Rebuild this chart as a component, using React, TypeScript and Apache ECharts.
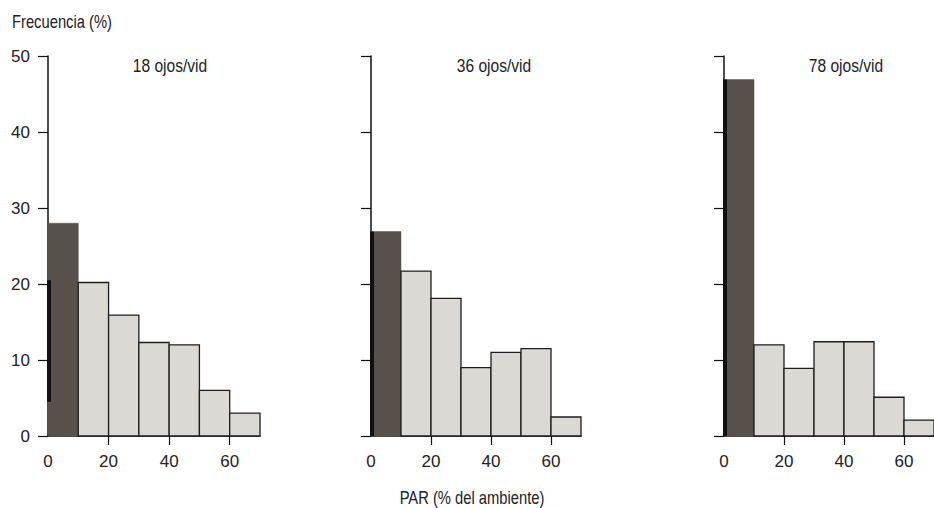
import React, { useEffect, useRef } from "react";
import * as echarts from "echarts";

// ---- data ----
const binEdges = [0, 10, 20, 30, 40, 50, 60, 70];
const panelTitles = ["18 ojos/vid", "36 ojos/vid", "78 ojos/vid"];
const freq18 = [28, 20.2, 15.9, 12.3, 12, 6, 3];
const freq36 = [26.9, 21.7, 18.1, 9, 11, 11.5, 2.5];
const freq78 = [46.9, 12, 8.9, 12.4, 12.4, 5.1, 2.1];
const panelValues = [freq18, freq36, freq78];
const xTickLabels = [0, 20, 40, 60];
const xTickMarks = [20, 40, 60];
const yAxisTitle = "Frecuencia (%)";
const xAxisTitle = "PAR (% del ambiente)";
// dark scan strip along left edge of first bin (value range)
const stripRanges = [
  [4.5, 20.5],
  [0, 26.9],
  [0, 46.9],
];

const FONT = "'Liberation Sans', Arial, Helvetica, sans-serif";
const TXT = "#222";
const DARK = "#57504b";
const LIGHT = "#dcd8d3";
const NARROW = 0.82;

export default function App() {
  const ref = useRef<HTMLDivElement>(null);

  useEffect(() => {
    if (!ref.current) return;
    const chart = echarts.init(ref.current, undefined, { renderer: "svg" });

    const grids = [
      { left: 48, top: 56, width: 212, height: 380 },
      { left: 371, top: 56, width: 210, height: 380 },
      { left: 724, top: 56, width: 213.5, height: 380 },
    ];

    const xAxes = grids.map((_, i) => ({
      type: "value",
      gridIndex: i,
      min: 0,
      max: 70,
      interval: 10,
      axisLine: { show: true, lineStyle: { color: "#111", width: 1.5 } },
      axisTick: {
        show: true,
        inside: false,
        length: 9,
        customValues: xTickMarks,
        lineStyle: { color: "#111", width: 1.2 },
      },
      axisLabel: {
        show: true,
        customValues: xTickLabels,
        margin: 17,
        fontSize: 17,
        fontFamily: FONT,
        color: TXT,
      },
      splitLine: { show: false },
    }));

    const yAxes = grids.map((_, i) => ({
      type: "value",
      gridIndex: i,
      min: 0,
      max: 50,
      interval: 10,
      axisLine: { show: true, lineStyle: { color: "#111", width: 1.5 } },
      axisTick: { show: true, inside: false, length: 10, lineStyle: { color: "#111", width: 1.2 } },
      axisLabel: {
        show: i === 0,
        margin: 18,
        fontSize: 17,
        fontFamily: FONT,
        color: TXT,
      },
      splitLine: { show: false },
    }));

    const barSeries = panelValues.map((vals, i) => ({
      type: "custom",
      xAxisIndex: i,
      yAxisIndex: i,
      z: 3,
      data: vals.map((v, k) => [binEdges[k], binEdges[k + 1], v]),
      encode: { x: [0, 1], y: 2 },
      renderItem: (params: any, api: any) => {
        const x0 = api.value(0);
        const x1 = api.value(1);
        const v = api.value(2);
        const p0 = api.coord([x0, v]);
        const p1 = api.coord([x1, 0]);
        const first = params.dataIndex === 0;
        return {
          type: "rect",
          shape: { x: p0[0], y: p0[1], width: p1[0] - p0[0], height: p1[1] - p0[1] },
          style: first
            ? { fill: DARK, stroke: DARK, lineWidth: 0.5 }
            : { fill: LIGHT, stroke: "#1e1e1e", lineWidth: 1.3 },
        };
      },
    }));

    const stripSeries = stripRanges.map((r, i) => ({
      type: "custom",
      xAxisIndex: i,
      yAxisIndex: i,
      z: 4,
      data: [[0, r[0], r[1]]],
      renderItem: (_params: any, api: any) => {
        const pTop = api.coord([api.value(0), api.value(2)]);
        const pBot = api.coord([api.value(0), api.value(1)]);
        return {
          type: "rect",
          shape: { x: pTop[0] - 1, y: pTop[1], width: 4, height: pBot[1] - pTop[1] },
          style: { fill: "#111" },
        };
      },
    }));

    const titleCenters = [170, 494, 846];

    chart.setOption({
      animation: false,
      backgroundColor: "#ffffff",
      grid: grids,
      xAxis: xAxes,
      yAxis: yAxes,
      series: [...barSeries, ...stripSeries],
      graphic: [
        {
          type: "text",
          x: 12,
          y: 21,
          scaleX: NARROW,
          style: {
            text: yAxisTitle,
            fontSize: 18,
            fontFamily: FONT,
            fill: TXT,
            align: "left",
            verticalAlign: "middle",
          },
        },
        ...panelTitles.map((t, i) => ({
          type: "text",
          x: titleCenters[i],
          y: 65,
          scaleX: NARROW,
          style: {
            text: t,
            fontSize: 19,
            fontFamily: FONT,
            fill: TXT,
            align: "center",
            verticalAlign: "middle",
          },
        })),
        {
          type: "text",
          x: 472,
          y: 497,
          scaleX: NARROW,
          style: {
            text: xAxisTitle,
            fontSize: 18,
            fontFamily: FONT,
            fill: TXT,
            align: "center",
            verticalAlign: "middle",
          },
        },
      ],
    });

    return () => chart.dispose();
  }, []);

  return (
    <div
      ref={ref}
      style={{ position: "absolute", left: 0, top: 0, width: 934, height: 508 }}
    />
  );
}
